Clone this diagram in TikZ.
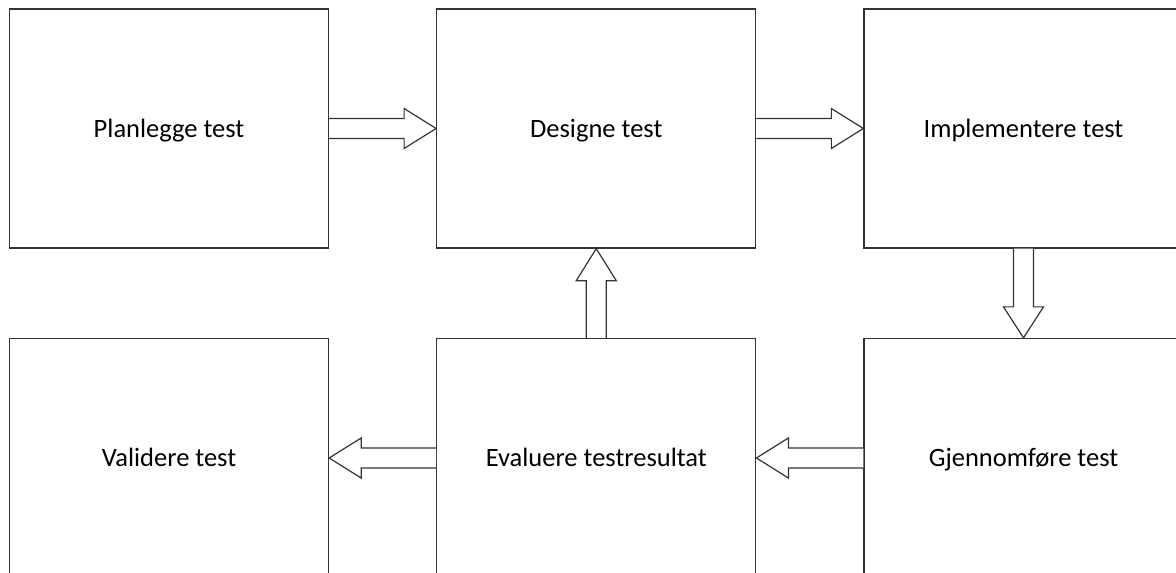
\documentclass[tikz,border=0pt]{standalone}
\usepackage{fontspec}
\setmainfont{Carlito}
\usetikzlibrary{calc}
\tikzset{
  stepbox/.style={draw=black!80, line width=1.3pt, fill=white, rectangle,
    minimum width=319pt, minimum height=239pt, inner sep=0pt,
    text height=17pt, text depth=0pt,
    font=\fontsize{26.5}{30}\selectfont},
  blockarrow/.style={draw=black!80, line width=1.2pt, fill=white, line join=miter}
}
\begin{document}
\begin{tikzpicture}[x=1pt,y=-1pt]
  \useasboundingbox (0,0) rectangle (1176,573);
  % process steps
  \node[stepbox] (plan)   at (169,128.5)     {Planlegge test};
  \node[stepbox] (design) at (596.25,128.5)  {Designe test};
  \node[stepbox] (impl)   at (1023.5,128.5)  {Implementere test};
  \node[stepbox] (valid)  at (169,458)       {Validere test};
  \node[stepbox] (eval)   at (596.25,458)    {Evaluere testresultat};
  \node[stepbox] (exec)   at (1023.5,458)    {Gjennomføre test};

  % plan -> design
  \draw[blockarrow] ($(plan.east)+(0,-10)$) -- ($(design.west)+(-32,-10)$)
    -- ($(design.west)+(-32,-20)$) -- (design.west) -- ($(design.west)+(-32,20)$)
    -- ($(design.west)+(-32,10)$) -- ($(plan.east)+(0,10)$);
  % design -> impl
  \draw[blockarrow] ($(design.east)+(0,-10)$) -- ($(impl.west)+(-32,-10)$)
    -- ($(impl.west)+(-32,-20)$) -- (impl.west) -- ($(impl.west)+(-32,20)$)
    -- ($(impl.west)+(-32,10)$) -- ($(design.east)+(0,10)$);
  % impl -> exec
  \draw[blockarrow] ($(impl.south)+(-10,0)$) -- ($(exec.north)+(-10,-31)$)
    -- ($(exec.north)+(-20,-31)$) -- (exec.north) -- ($(exec.north)+(20,-31)$)
    -- ($(exec.north)+(10,-31)$) -- ($(impl.south)+(10,0)$);
  % exec -> eval
  \draw[blockarrow] ($(exec.west)+(0,-10)$) -- ($(eval.east)+(32,-10)$)
    -- ($(eval.east)+(32,-20)$) -- (eval.east) -- ($(eval.east)+(32,20)$)
    -- ($(eval.east)+(32,10)$) -- ($(exec.west)+(0,10)$);
  % eval -> valid
  \draw[blockarrow] ($(eval.west)+(0,-10)$) -- ($(valid.east)+(32,-10)$)
    -- ($(valid.east)+(32,-20)$) -- (valid.east) -- ($(valid.east)+(32,20)$)
    -- ($(valid.east)+(32,10)$) -- ($(eval.west)+(0,10)$);
  % eval -> design
  \draw[blockarrow] ($(eval.north)+(-10,0)$) -- ($(design.south)+(-10,32)$)
    -- ($(design.south)+(-20,32)$) -- (design.south) -- ($(design.south)+(20,32)$)
    -- ($(design.south)+(10,32)$) -- ($(eval.north)+(10,0)$);
\end{tikzpicture}
\end{document}
